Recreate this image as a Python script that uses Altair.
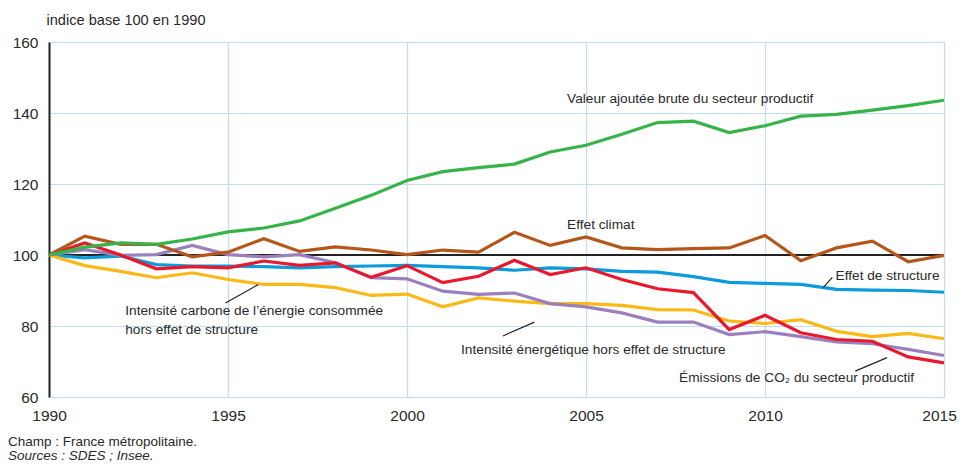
import altair as alt
import pandas as pd

years = list(range(1990, 2016))
valeur_ajoutee = [100, 102.2, 103.4, 103.0, 104.5, 106.5, 107.6, 109.6, 113.2, 116.8, 121.0, 123.5, 124.6, 125.6,
                  129.0, 130.9, 134.0, 137.3, 137.7, 134.5, 136.4, 139.1, 139.6, 140.8, 142.1, 143.6]
effet_climat = [100, 105.3, 103.0, 103.0, 99.5, 100.8, 104.6, 101.0, 102.3, 101.4, 100.1, 101.4, 100.8, 106.4,
                102.7, 105.1, 102.0, 101.5, 101.8, 102.0, 105.5, 98.4, 102.0, 103.9, 98.1, 99.9]
effet_structure = [100, 99.2, 99.7, 97.3, 96.9, 96.9, 96.7, 96.4, 96.7, 96.9, 97.1, 96.7, 96.4, 95.7,
                   96.4, 96.1, 95.4, 95.2, 93.9, 92.3, 92.0, 91.7, 90.3, 90.1, 90.0, 89.5]
emissions = [100, 103.4, 100.0, 96.1, 96.7, 96.4, 98.3, 97.1, 97.8, 93.7, 97.0, 92.2, 94.0, 98.5,
             94.5, 96.4, 93.1, 90.5, 89.4, 79.0, 83.0, 78.1, 76.2, 75.7, 71.3, 69.6]
intensite_energetique = [100, 101.5, 99.9, 100.1, 102.7, 100.1, 99.5, 100.1, 97.8, 93.6, 93.3, 89.8, 88.9, 89.3,
                         86.3, 85.4, 83.7, 81.1, 81.1, 77.6, 78.4, 77.0, 75.5, 75.0, 73.4, 71.7]
intensite_carbone = [100, 97.0, 95.4, 93.6, 95.0, 93.1, 91.7, 91.7, 90.8, 88.6, 89.0, 85.4, 87.9, 87.0,
                     86.3, 86.3, 85.8, 84.6, 84.5, 81.4, 80.7, 81.8, 78.5, 77.0, 77.9, 76.4]

series_names = ["Effet de structure", "Intensité carbone", "Intensité énergétique",
                "Émissions", "Effet climat", "Valeur ajoutée"]
series_values = [effet_structure, intensite_carbone, intensite_energetique,
                 emissions, effet_climat, valeur_ajoutee]
series_colors = ["#0c9bdb", "#fbb917", "#9a80bf", "#e8192c", "#b5561b", "#37b34a"]

x_ticks = [1990, 1995, 2000, 2005, 2010, 2015]
y_ticks = [60, 80, 100, 120, 140, 160]

# annotation labels (data coordinates)
label_text = ["Valeur ajoutée brute du secteur productif", "Effet climat", "Effet de structure",
              ["Intensité carbone de l’énergie consommée", "hors effet de structure"],
              "Intensité énergétique hors effet de structure",
              "Émissions de CO₂ du secteur productif"]
label_x = [2004.47, 2004.47, 2011.97, 1992.13, 2001.51, 2007.6]
label_y = [143.9, 108.4, 94.0, 84.1, 73.2, 65.3]

# leader lines (data coordinates)
lead_x = [2011.63, 1994.93, 2002.68, 2012.52]
lead_y = [90.9, 86.5, 77.2, 67.3]
lead_x2 = [2011.88, 1995.85, 2003.56, 2013.41]
lead_y2 = [93.7, 91.7, 81.1, 71.1]

FONT = "Liberation Sans, Arial, sans-serif"
GRID = "#bfdcf2"
TXT = "#2a2a2a"

rows = []
for name, vals in zip(series_names, series_values):
    for yr, v in zip(years, vals):
        rows.append({"year": yr, "value": v, "serie": name})
df = pd.DataFrame(rows)

xs = alt.Scale(domain=[1990, 2015], nice=False, zero=False)
ys = alt.Scale(domain=[60, 160], nice=False, zero=False)

base_axis_x = alt.Axis(values=x_ticks, format="d", grid=True, gridColor=GRID, gridWidth=1.2,
                       domain=False, ticks=False, labelFontSize=15.5, labelPadding=11,
                       labelColor=TXT, labelFont=FONT, title=None, labelFlush=False,
                       labelOffset={"condition": {"test": "datum.value == 2015", "value": -5}, "value": 0})
base_axis_y = alt.Axis(values=y_ticks, grid=True, gridColor=GRID, gridWidth=1.2,
                       domain=True, domainColor="#222222", domainWidth=2, ticks=False,
                       labelFontSize=15.5, labelPadding=11, labelColor=TXT, labelFont=FONT,
                       title="indice base 100 en 1990", titleAngle=0, titleX=-3, titleY=-22,
                       titleAlign="left", titleBaseline="middle", titleFontSize=14.6,
                       titleFontWeight="normal", titleFont=FONT, titleColor=TXT)

ref = alt.Chart(pd.DataFrame({"x0": [1990], "x1": [2015], "v": [100]})).mark_rule(
    color="#222222", strokeWidth=2).encode(
    x=alt.X("x0:Q", scale=xs, axis=base_axis_x),
    x2="x1:Q",
    y=alt.Y("v:Q", scale=ys, axis=base_axis_y))

lines = alt.Chart(df).mark_line(strokeWidth=3.2).encode(
    x=alt.X("year:Q", scale=xs),
    y=alt.Y("value:Q", scale=ys),
    color=alt.Color("serie:N", scale=alt.Scale(domain=series_names, range=series_colors), legend=None),
    order=alt.Order("year:Q"),
    detail="serie:N")

lab_df = pd.DataFrame({"t": label_text, "x": label_x, "y": label_y})
labels = alt.Chart(lab_df).mark_text(align="left", baseline="middle", fontSize=13.7, font=FONT,
                                     color=TXT, lineHeight=19).encode(
    x=alt.X("x:Q", scale=xs), y=alt.Y("y:Q", scale=ys), text="t")

lead_df = pd.DataFrame({"x": lead_x, "y": lead_y, "x2": lead_x2, "y2": lead_y2})
leaders = alt.Chart(lead_df).mark_rule(color="#222222", strokeWidth=1.2).encode(
    x=alt.X("x:Q", scale=xs), y=alt.Y("y:Q", scale=ys), x2="x2:Q", y2="y2:Q")

foot_df = pd.DataFrame({"t": ["Champ : France métropolitaine."]})
foot1 = alt.Chart(foot_df).mark_text(align="left", baseline="middle", fontSize=13.5, font=FONT,
                                     color=TXT).encode(
    x=alt.value(-41), y=alt.value(400), text="t")
foot_df2 = pd.DataFrame({"t": ["Sources : SDES ; Insee."]})
foot2 = alt.Chart(foot_df2).mark_text(align="left", baseline="middle", fontSize=13.5, font=FONT,
                                      color=TXT, fontStyle="italic").encode(
    x=alt.value(-41), y=alt.value(414), text="t")

chart = alt.layer(ref, lines, leaders, labels, foot1, foot2).properties(
    width=895, height=355,
    autosize=alt.AutoSizeParams(type="none"),
    padding={"left": 41, "top": 34, "right": 13, "bottom": 67},
).configure_view(stroke=None).configure(background="white")

chart.save("out.html", embed_options={"renderer": "svg", "actions": False})
